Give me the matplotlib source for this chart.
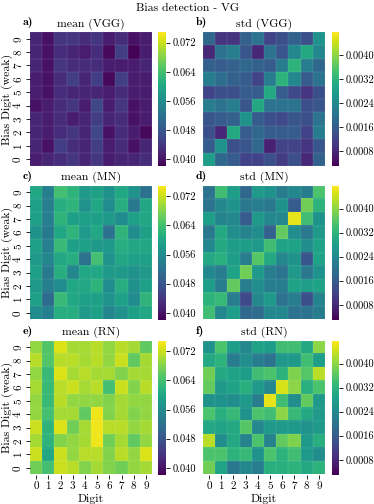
"""
Bias detection heatmaps (mean / std of predictions per digit)
"""

### Import modules
import numpy as np
import matplotlib
matplotlib.use('Agg')
import matplotlib.pyplot as plt

### Labels
digits = [0, 1, 2, 3, 4, 5, 6, 7, 8, 9]
bias_digits = [9, 8, 7, 6, 5, 4, 3, 2, 1, 0]   # rows, top to bottom
mean_ticks = [0.040, 0.048, 0.056, 0.064, 0.072]
mean_ticklabels = ['0.040', '0.048', '0.056', '0.064', '0.072']
std_ticks = [0.0008, 0.0016, 0.0024, 0.0032, 0.0040]
std_ticklabels = ['0.0008', '0.0016', '0.0024', '0.0032', '0.0040']
mean_range = [0.0382, 0.0749]
std_range = [0.00031, 0.00477]

### Data (rows = bias digit 9 ... 0, columns = digit 0 ... 9)
mean_vgg = [
    [0.042, 0.040, 0.044, 0.044, 0.043, 0.044, 0.041, 0.043, 0.040, 0.041],
    [0.042, 0.040, 0.043, 0.042, 0.041, 0.043, 0.039, 0.045, 0.0385, 0.041],
    [0.042, 0.040, 0.044, 0.043, 0.043, 0.043, 0.041, 0.041, 0.041, 0.042],
    [0.041, 0.040, 0.043, 0.045, 0.042, 0.045, 0.039, 0.045, 0.041, 0.041],
    [0.041, 0.040, 0.043, 0.042, 0.042, 0.042, 0.041, 0.043, 0.041, 0.041],
    [0.040, 0.041, 0.043, 0.044, 0.041, 0.046, 0.041, 0.044, 0.040, 0.041],
    [0.042, 0.041, 0.043, 0.041, 0.042, 0.045, 0.042, 0.043, 0.040, 0.041],
    [0.042, 0.041, 0.043, 0.044, 0.042, 0.046, 0.040, 0.043, 0.041, 0.039],
    [0.042, 0.040, 0.045, 0.043, 0.042, 0.045, 0.041, 0.043, 0.040, 0.042],
    [0.041, 0.042, 0.043, 0.044, 0.042, 0.044, 0.041, 0.042, 0.042, 0.043]]

std_vgg = [
    [0.0018, 0.0010, 0.0010, 0.0017, 0.0020, 0.0012, 0.0014, 0.0017, 0.0014, 0.0026],
    [0.0008, 0.0020, 0.0022, 0.0015, 0.0008, 0.0020, 0.0015, 0.0024, 0.0030, 0.0024],
    [0.0017, 0.0016, 0.0017, 0.0018, 0.0017, 0.0016, 0.0022, 0.0032, 0.0022, 0.0018],
    [0.0022, 0.0019, 0.0017, 0.0016, 0.0012, 0.0022, 0.0032, 0.0024, 0.0016, 0.0020],
    [0.0012, 0.0014, 0.0014, 0.0016, 0.0016, 0.0030, 0.0016, 0.0013, 0.0010, 0.0014],
    [0.0022, 0.0020, 0.0022, 0.0015, 0.0030, 0.0020, 0.0020, 0.0020, 0.0014, 0.0015],
    [0.0015, 0.0016, 0.0017, 0.0026, 0.0016, 0.0014, 0.0013, 0.0015, 0.0014, 0.0020],
    [0.0014, 0.0008, 0.0030, 0.0016, 0.0018, 0.0016, 0.0016, 0.0016, 0.0012, 0.0022],
    [0.0016, 0.0026, 0.0014, 0.0015, 0.0018, 0.0007, 0.0012, 0.0012, 0.0010, 0.0015],
    [0.0028, 0.0018, 0.0016, 0.0012, 0.0012, 0.0014, 0.0011, 0.0014, 0.0008, 0.0017]]

mean_mn = [
    [0.060, 0.054, 0.064, 0.062, 0.058, 0.059, 0.057, 0.060, 0.057, 0.052],
    [0.059, 0.054, 0.061, 0.062, 0.057, 0.060, 0.056, 0.061, 0.053, 0.060],
    [0.059, 0.054, 0.062, 0.059, 0.059, 0.059, 0.058, 0.056, 0.059, 0.060],
    [0.057, 0.053, 0.060, 0.062, 0.058, 0.060, 0.052, 0.062, 0.056, 0.059],
    [0.059, 0.054, 0.063, 0.059, 0.059, 0.058, 0.058, 0.061, 0.060, 0.060],
    [0.058, 0.055, 0.060, 0.061, 0.052, 0.064, 0.057, 0.060, 0.059, 0.059],
    [0.059, 0.053, 0.061, 0.055, 0.060, 0.060, 0.058, 0.058, 0.057, 0.058],
    [0.058, 0.054, 0.056, 0.060, 0.060, 0.062, 0.056, 0.061, 0.057, 0.059],
    [0.059, 0.051, 0.063, 0.060, 0.059, 0.059, 0.057, 0.059, 0.056, 0.062],
    [0.056, 0.054, 0.061, 0.061, 0.058, 0.059, 0.055, 0.057, 0.059, 0.060]]

std_mn = [
    [0.0020, 0.0034, 0.0028, 0.0018, 0.0027, 0.0026, 0.0022, 0.0024, 0.0022, 0.0035],
    [0.0020, 0.0024, 0.0026, 0.0021, 0.0022, 0.0021, 0.0026, 0.0016, 0.0038, 0.0032],
    [0.0028, 0.0023, 0.0024, 0.0016, 0.0027, 0.0024, 0.0024, 0.0046, 0.0034, 0.0026],
    [0.0021, 0.0030, 0.0025, 0.0023, 0.0025, 0.0017, 0.0037, 0.0025, 0.0021, 0.0027],
    [0.0024, 0.0030, 0.0028, 0.0028, 0.0027, 0.0034, 0.0029, 0.0029, 0.0025, 0.0029],
    [0.0030, 0.0031, 0.0028, 0.0022, 0.0036, 0.0030, 0.0024, 0.0026, 0.0015, 0.0029],
    [0.0024, 0.0022, 0.0029, 0.0038, 0.0027, 0.0022, 0.0020, 0.0027, 0.0021, 0.0026],
    [0.0028, 0.0022, 0.0037, 0.0022, 0.0025, 0.0022, 0.0022, 0.0029, 0.0028, 0.0029],
    [0.0032, 0.0033, 0.0022, 0.0013, 0.0024, 0.0027, 0.0020, 0.0022, 0.0014, 0.0023],
    [0.0034, 0.0024, 0.0028, 0.0018, 0.0019, 0.0024, 0.0024, 0.0020, 0.0020, 0.0022]]

mean_rn = [
    [0.069, 0.065, 0.073, 0.070, 0.070, 0.071, 0.069, 0.071, 0.070, 0.066],
    [0.071, 0.065, 0.071, 0.071, 0.070, 0.071, 0.069, 0.072, 0.066, 0.070],
    [0.069, 0.063, 0.073, 0.070, 0.071, 0.070, 0.070, 0.068, 0.070, 0.070],
    [0.070, 0.063, 0.071, 0.072, 0.070, 0.071, 0.064, 0.072, 0.068, 0.071],
    [0.069, 0.063, 0.071, 0.069, 0.069, 0.069, 0.068, 0.070, 0.069, 0.069],
    [0.069, 0.064, 0.070, 0.070, 0.066, 0.074, 0.068, 0.070, 0.068, 0.069],
    [0.072, 0.062, 0.073, 0.067, 0.070, 0.074, 0.071, 0.071, 0.069, 0.070],
    [0.070, 0.062, 0.068, 0.069, 0.070, 0.074, 0.067, 0.070, 0.066, 0.069],
    [0.072, 0.060, 0.072, 0.069, 0.071, 0.071, 0.068, 0.071, 0.069, 0.073],
    [0.067, 0.064, 0.072, 0.071, 0.068, 0.070, 0.068, 0.067, 0.069, 0.070]]

std_rn = [
    [0.0026, 0.0035, 0.0028, 0.0024, 0.0029, 0.0028, 0.0034, 0.0034, 0.0030, 0.0040],
    [0.0030, 0.0032, 0.0022, 0.0025, 0.0022, 0.0020, 0.0027, 0.0027, 0.0034, 0.0028],
    [0.0038, 0.0030, 0.0029, 0.0028, 0.0034, 0.0035, 0.0032, 0.0039, 0.0036, 0.0043],
    [0.0037, 0.0027, 0.0029, 0.0031, 0.0027, 0.0024, 0.0045, 0.0040, 0.0031, 0.0035],
    [0.0026, 0.0026, 0.0025, 0.0027, 0.0022, 0.0046, 0.0034, 0.0025, 0.0037, 0.0027],
    [0.0035, 0.0031, 0.0033, 0.0026, 0.0035, 0.0034, 0.0040, 0.0033, 0.0030, 0.0027],
    [0.0030, 0.0029, 0.0030, 0.0036, 0.0024, 0.0027, 0.0027, 0.0027, 0.0026, 0.0027],
    [0.0043, 0.0025, 0.0030, 0.0023, 0.0035, 0.0023, 0.0037, 0.0039, 0.0027, 0.0031],
    [0.0035, 0.0035, 0.0032, 0.0033, 0.0026, 0.0035, 0.0032, 0.0034, 0.0027, 0.0025],
    [0.0038, 0.0029, 0.0021, 0.0024, 0.0022, 0.0031, 0.0031, 0.0032, 0.0030, 0.0032]]

###############################################################################
### Plot figure
plt.rcParams['font.family'] = 'serif'
plt.rcParams['font.serif'] = ['cmr10']
plt.rcParams['mathtext.fontset'] = 'cm'
plt.rcParams['axes.formatter.use_mathtext'] = True

W, H = 374., 504.
fig = plt.figure(figsize=(W/100., H/100.), dpi=100)

### Layout in pixels
col_left = [30., 203.]
cbar_left = [158., 331.5]
row_top = [32., 185.5, 340.5]
hm_w, hm_h, cb_w = 122., 134., 7.5

panels = [[(mean_vgg, 'mean (VGG)', 'a)'), (std_vgg, 'std (VGG)', 'b)')],
          [(mean_mn, 'mean (MN)', 'c)'), (std_mn, 'std (MN)', 'd)')],
          [(mean_rn, 'mean (RN)', 'e)'), (std_rn, 'std (RN)', 'f)')]]

fs = 8.5
for r in range(3):
    for c in range(2):
        data, title, letter = panels[r][c]
        top = row_top[r]
        ax = fig.add_axes([col_left[c]/W, 1 - (top + hm_h)/H, hm_w/W, hm_h/H])
        cax = fig.add_axes([cbar_left[c]/W, 1 - (top + hm_h)/H, cb_w/W, hm_h/H])
        if c == 0:
            vmin, vmax = mean_range
            ticks, ticklabels = mean_ticks, mean_ticklabels
        else:
            vmin, vmax = std_range
            ticks, ticklabels = std_ticks, std_ticklabels

        im = ax.imshow(np.asarray(data), cmap='viridis', vmin=vmin, vmax=vmax,
                       aspect='auto', interpolation='nearest')
        ### faint seams between cells
        ax.set_xticks(np.arange(-0.5, 10, 1), minor=True)
        ax.set_yticks(np.arange(-0.5, 10, 1), minor=True)
        ax.grid(which='minor', color='white', linewidth=0.3, alpha=0.25)
        ax.tick_params(which='minor', length=0)
        for sp in ax.spines.values():
            sp.set_visible(False)

        ax.tick_params('both', length=3, width=0.6, labelsize=8, pad=2)
        if c == 0:
            ax.set_yticks(np.arange(10))
            ax.set_yticklabels(bias_digits, rotation=90, va='center')
            ax.set_ylabel('Bias Digit (weak)', fontsize=fs)
            ax.yaxis.set_label_coords(-(col_left[0] - 13.)/hm_w, 0.5)
        else:
            ax.set_yticks([])
        if r == 2:
            ax.set_xticks(np.arange(10))
            ax.set_xticklabels(digits)
            ax.set_xlabel('Digit', fontsize=fs, labelpad=2)
        else:
            ax.set_xticks([])

        ax.set_title(title, fontsize=fs, pad=4)
        fig.text((col_left[c] - 7)/W, 1 - (top - 9)/H, letter, fontsize=fs,
                 family='cmb10', ha='left', va='center')

        cb = fig.colorbar(im, cax=cax)
        cb.set_ticks(ticks)
        cb.set_ticklabels(ticklabels)
        cb.ax.tick_params(labelsize=7.5, length=3, width=0.6, pad=2)
        cb.outline.set_visible(False)

fig.text(0.5, 1 - 8./H, 'Bias detection - VG', fontsize=fs, ha='center',
         va='center')

plt.savefig('out.png', dpi=100)
